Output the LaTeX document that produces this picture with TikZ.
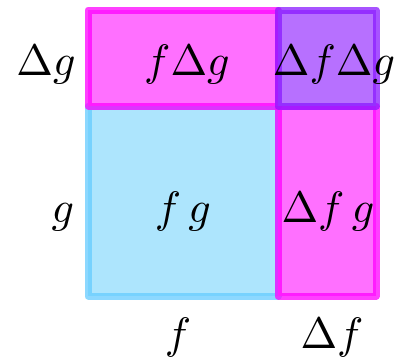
\documentclass[tikz,border=0pt]{standalone}
\definecolor{pinkfill}{HTML}{FF70FF}
\definecolor{pinkline}{HTML}{FF00FF}
\definecolor{bluefill}{HTML}{ADE5FD}
\definecolor{blueline}{HTML}{66CCFF}
\definecolor{purplefill}{HTML}{B770FF}
\definecolor{purpleline}{HTML}{8A1AFF}
\newcommand{\biglab}[1]{\scalebox{4.4}{$#1$}}
\tikzset{
  cell/.style={line width=7pt, line cap=round, line join=round, draw opacity=0.75},
  lab/.style={inner sep=0pt, anchor=base}
}
\begin{document}
\begin{tikzpicture}[x=1pt,y=-1pt]
\useasboundingbox (0,0) rectangle (400,362);
\fill[white] (0,0) rectangle (400,362);
% cells
\filldraw[cell, fill=bluefill, draw=blueline] (88,106) rectangle (278,296);
\filldraw[cell, fill=pinkfill, draw=pinkline] (278,106) rectangle (376,296);
\filldraw[cell, fill=pinkfill, draw=pinkline] (88,10) rectangle (278,106);
\filldraw[cell, fill=purplefill, draw=purpleline] (278,10) rectangle (376,106);
% labels
\node[lab] (dg) at (46,75) {\biglab{\Delta g}};
\node[lab] (fdg) at (187,75) {\biglab{f\Delta g}};
\node[lab] (dfdg) at (334,75) {\biglab{\Delta f\Delta g}};
\node[lab] (g) at (63,222) {\biglab{g}};
\node[lab] (fg) at (183,222) {\biglab{f\,g}};
\node[lab] (dfg) at (328,222) {\biglab{\Delta f\,g}};
\node[lab] (f) at (178,348) {\biglab{f}};
\node[lab] (df) at (332,348) {\biglab{\Delta f}};
\end{tikzpicture}
\end{document}
